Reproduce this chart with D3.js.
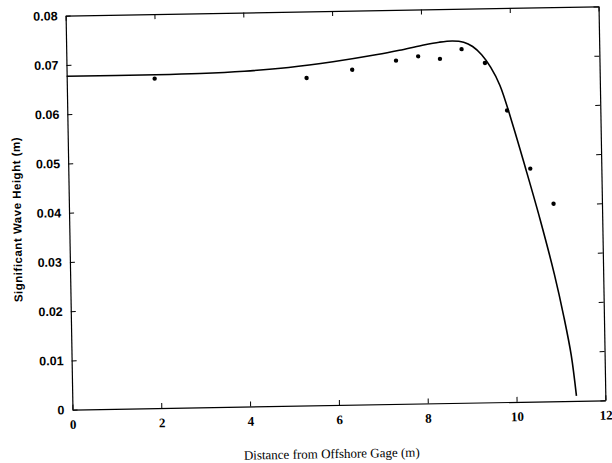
<!DOCTYPE html>
<html>
<head>
<meta charset="utf-8">
<script src="https://d3js.org/d3.v7.min.js"></script>
<style>
  body { margin: 0; background: #fff; }
  .axis path { stroke: #000; stroke-width: 1.2; }
  .axis line { stroke: #000; stroke-width: 1; }
</style>
</head>
<body>
<script>
var width = 612, height = 463;

// modele (trait continu)
var modelX = [0, 2, 3, 4, 5, 6, 7, 7.5, 8, 8.4, 8.7, 8.95, 9.15, 9.35, 9.55, 9.75, 10.0, 10.3, 10.6, 10.9, 11.1, 11.25, 11.35];
var modelY = [0.0677, 0.0677, 0.0678, 0.0681, 0.0687, 0.0697, 0.0710, 0.0718, 0.0727, 0.0733, 0.0735, 0.0732, 0.0723, 0.0706, 0.0680, 0.0643, 0.0570, 0.0472, 0.0370, 0.0258, 0.0170, 0.0092, 0.0010];

// mesures (points)
var measX = [1.98, 5.4, 6.43, 7.42, 7.92, 8.41, 8.9, 9.42, 9.9, 10.4, 10.91];
var measY = [0.0669, 0.0665, 0.0680, 0.0697, 0.0705, 0.0699, 0.0718, 0.0689, 0.0592, 0.0473, 0.0401];

var xTicks = [0, 2, 4, 6, 8, 10, 12];
var yTicks = [0, 0.01, 0.02, 0.03, 0.04, 0.05, 0.06, 0.07, 0.08];

var margin = {left: 69, right: 602, top: 11, bottom: 405};

var svg = d3.select("body")
    .append("svg")
    .attr("width", width)
    .attr("height", height);

// le scan est legerement tourne
var g = svg.append("g")
    .attr("transform", "rotate(-1, 336, 208)");

var x = d3.scaleLinear().domain([0, 12]).range([margin.left, margin.right]);
var y = d3.scaleLinear().domain([0, 0.08]).range([margin.bottom, margin.top]);

var fmtY = function (d) { return d === 0 ? "0" : d3.format(".2f")(d); };

g.append("g").attr("class", "axis")
    .attr("transform", "translate(0," + margin.bottom + ")")
    .call(d3.axisBottom(x).tickValues(xTicks).tickSizeInner(-5).tickSizeOuter(0).tickPadding(10))
    .selectAll("text")
    .style("font-family", "'Liberation Serif', serif")
    .style("font-weight", "bold")
    .style("font-size", "13px")
    .attr("fill", "#000");

g.append("g").attr("class", "axis")
    .attr("transform", "translate(0," + margin.top + ")")
    .call(d3.axisTop(x).tickValues(xTicks).tickSizeInner(-5).tickSizeOuter(0).tickFormat(""));

g.append("g").attr("class", "axis")
    .attr("transform", "translate(" + margin.left + ",0)")
    .call(d3.axisLeft(y).tickValues(yTicks).tickSizeInner(-5).tickSizeOuter(0).tickPadding(8).tickFormat(fmtY))
    .selectAll("text")
    .style("font-family", "'Liberation Sans', sans-serif")
    .style("font-weight", "bold")
    .style("font-size", "12.5px")
    .attr("fill", "#000");

g.append("g").attr("class", "axis")
    .attr("transform", "translate(" + margin.right + ",0)")
    .call(d3.axisRight(y).tickValues(yTicks).tickSizeInner(-5).tickSizeOuter(0).tickFormat(""));

// courbe du modele
var line = d3.line()
    .x(function (d, i) { return x(modelX[i]); })
    .y(function (d) { return y(d); })
    .curve(d3.curveCatmullRom.alpha(0.5));

g.append("path")
    .datum(modelY)
    .attr("d", line)
    .attr("fill", "none")
    .attr("stroke", "#000")
    .attr("stroke-width", 1.6);

g.selectAll("circle.meas")
    .data(measY)
    .enter()
    .append("circle")
    .attr("class", "meas")
    .attr("cx", function (d, i) { return x(measX[i]); })
    .attr("cy", function (d) { return y(d); })
    .attr("r", 2.2)
    .attr("fill", "#000");

// titres des axes
g.append("text")
    .attr("x", (margin.left + margin.right) / 2 - 8)
    .attr("y", margin.bottom + 53)
    .attr("text-anchor", "middle")
    .style("font-family", "'Liberation Serif', serif")
    .style("font-size", "13px")
    .text("Distance from Offshore Gage (m)");

g.append("text")
    .attr("transform", "translate(21,214) rotate(-90)")
    .attr("text-anchor", "middle")
    .style("font-family", "'Liberation Sans', sans-serif")
    .style("font-weight", "bold")
    .style("font-size", "11.5px")
    .style("letter-spacing", "0.5px")
    .text("Significant Wave Height (m)");
</script>
</body>
</html>
